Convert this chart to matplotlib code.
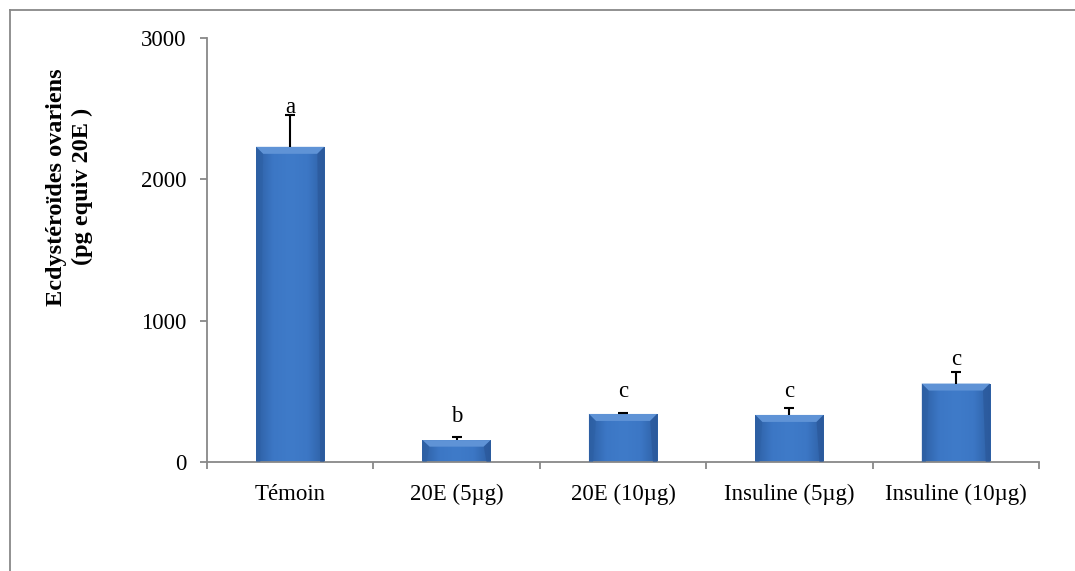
import matplotlib
matplotlib.use("Agg")
import matplotlib.pyplot as plt
import numpy as np
from matplotlib.colors import LinearSegmentedColormap
from matplotlib.patches import Polygon
from matplotlib.lines import Line2D

categories = ["Témoin", "20E (5µg)", "20E (10µg)", "Insuline (5µg)", "Insuline (10µg)"]
values = [2230, 155, 340, 333, 555]
errors = [225, 25, 8, 50, 82]
letters = ["a", "b", "c", "c", "c"]
letter_y = [2469, 283, 460, 460, 686]
yticks = [0, 1000, 2000, 3000]

plt.rcParams['font.family'] = ['Liberation Serif', 'DejaVu Serif']
FS = 16.5

fig = plt.figure(figsize=(10.75, 5.71), dpi=100)
ax = fig.add_axes([207/1075, 1-462/571, 832/1075, 424/571])

x = np.arange(len(categories))
bars = ax.bar(x, values, width=0.41, color='#3b74c2', edgecolor='none', zorder=2)
eb = ax.errorbar(x, values, yerr=[np.zeros(len(values)), errors], fmt='none',
                 ecolor='black', elinewidth=1.5, capsize=3.6, capthick=1.5, zorder=4)
# hide the lower caps (which sit on the bar tops)
caplines = eb.lines[1]
if len(caplines) >= 2:
    caplines[0].set_visible(False)

ax.set_xlim(-0.5, len(categories) - 0.5)
ax.set_ylim(0, 3000)
ax.set_yticks(yticks)
ax.set_yticklabels([str(t) for t in yticks], fontsize=FS)

# gradient + bevel
cmap = LinearSegmentedColormap.from_list('b', ['#2d5fa3', '#3c77c5', '#3f7bc9', '#3c77c5', '#2d5fa3'])
grad = np.linspace(0, 1, 200).reshape(1, -1)
fig.canvas.draw()
inv = ax.transData.inverted()
for p in bars.patches:
    x0, w, h = p.get_x(), p.get_width(), p.get_height()
    im = ax.imshow(grad, cmap=cmap, extent=(x0, x0 + w, 0, h), aspect='auto', zorder=2.5)
    im.set_clip_path(p)
    (px0, py0) = ax.transData.transform((x0, h))
    (dx, dy) = inv.transform((px0 + 7, py0 - 7)) - np.array([x0, h])
    dx, dy = abs(dx), abs(dy)
    dy = min(dy, h * 0.3)
    top = Polygon([(x0, h), (x0 + w, h), (x0 + w - dx, h - dy), (x0 + dx, h - dy)],
                  closed=True, facecolor='#5f93d6', edgecolor='none', zorder=3)
    ax.add_patch(top)
    left = Polygon([(x0, 0), (x0, h), (x0 + dx, h - dy), (x0 + dx * 0.6, 0)],
                   closed=True, facecolor='#2d5fa3', edgecolor='none', alpha=0.5, zorder=3)
    right = Polygon([(x0 + w, 0), (x0 + w, h), (x0 + w - dx, h - dy), (x0 + w - dx * 0.6, 0)],
                    closed=True, facecolor='#2a5697', edgecolor='none', alpha=0.6, zorder=3)
    ax.add_patch(left)
    ax.add_patch(right)
ax.set_xlim(-0.5, len(categories) - 0.5)
ax.set_ylim(0, 3000)

for xi, lab, ly in zip(x, letters, letter_y):
    ax.text(xi, ly, lab, ha='center', va='baseline', fontsize=FS, zorder=5)

ax.set_xticks(x)
ax.set_xticklabels(categories, fontsize=FS)
ax.set_xticks(np.arange(-0.5, len(categories), 1.0), minor=True)
ax.tick_params(axis='x', which='major', length=0, pad=16)
ax.tick_params(axis='x', which='minor', length=5, width=1.3, color='#888888', direction='out')
ax.tick_params(axis='y', which='major', length=5, width=1.3, color='#888888', direction='out', pad=10)

for s in ['top', 'right']:
    ax.spines[s].set_visible(False)
for s in ['left', 'bottom']:
    ax.spines[s].set_color('#888888')
    ax.spines[s].set_linewidth(1.3)

ax.set_ylabel("Ecdystéroïdes ovariens\n(pg equiv 20E )", fontsize=17.5, fontweight='bold',
              linespacing=1.3)
ax.yaxis.label.set_va('center')
ax.yaxis.set_label_coords(-0.165, 0.649)

# outer frame
fig.add_artist(Line2D([10/1075, 1], [1-10/571, 1-10/571], transform=fig.transFigure,
                      color='#888888', linewidth=1.3))
fig.add_artist(Line2D([10/1075, 10/1075], [0, 1-10/571], transform=fig.transFigure,
                      color='#888888', linewidth=1.3))

fig.savefig("out.png", dpi=100)
